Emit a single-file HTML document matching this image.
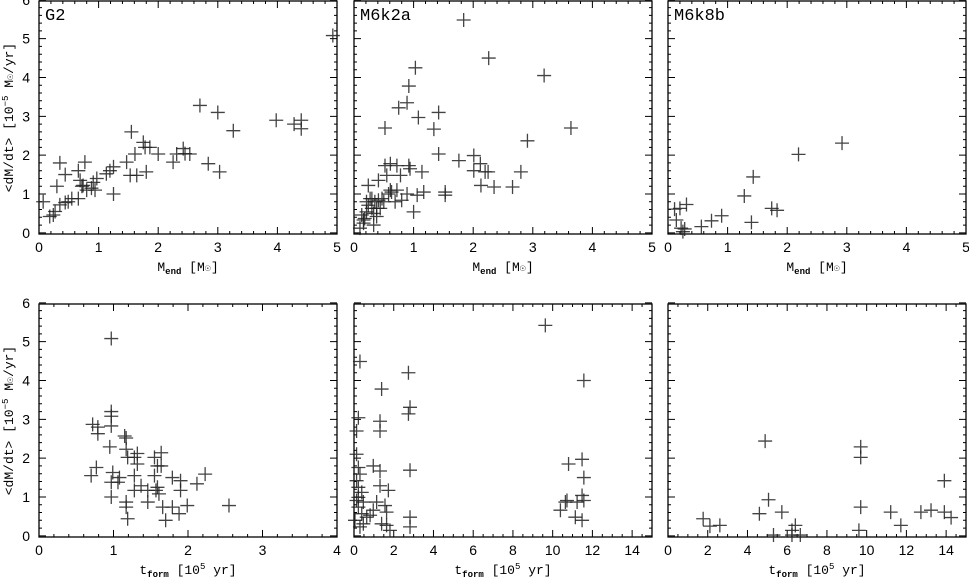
<!DOCTYPE html>
<html><head><meta charset="utf-8"><style>
body{margin:0;background:#fff}
svg{display:block;font-family:"Liberation Sans",sans-serif}
</style></head><body>
<svg id="chart" width="969" height="579" xmlns="http://www.w3.org/2000/svg"></svg>
<script>
// ---- data ----
const g2MendX=[0.07,0.24,0.18,0.27,0.3,0.35,0.44,0.35,0.44,0.49,0.55,0.66,0.66,0.69,0.72,0.77,0.74,0.8,0.88,0.94,0.91,0.97,1.13,1.19,1.25,1.25,1.47,1.55,1.61,1.53,1.64,1.8,1.75,1.78,1.86,2.0,2.25,2.31,2.42,2.45,2.53,2.7,2.84,3.0,3.03,3.26,3.98,4.28,4.4,4.4,4.93];
const g2MendY=[0.8,0.46,0.42,0.55,1.2,1.8,1.5,0.72,0.78,0.8,0.88,0.88,1.6,1.35,1.2,1.82,1.22,1.1,1.15,1.1,1.3,1.4,1.52,1.6,1.7,1.0,1.82,2.6,2.03,1.48,1.48,1.57,2.33,2.2,2.2,2.03,1.82,2.03,2.17,2.04,2.03,3.28,1.78,3.1,1.57,2.63,2.9,2.8,2.9,2.68,5.08];
const m2MendX=[0.1,0.16,0.18,0.21,0.24,0.27,0.3,0.33,0.38,0.35,0.41,0.47,0.44,0.24,0.41,0.55,0.52,0.61,0.72,0.92,0.78,0.63,0.72,0.8,0.89,1.0,1.06,1.17,1.14,0.94,0.52,0.75,0.89,0.92,1.03,1.08,1.34,1.42,1.42,1.53,1.53,1.76,1.84,2.01,2.01,2.12,2.2,2.25,2.13,2.35,2.26,2.66,2.8,2.91,3.19,3.64,0.16,0.3,0.5,0.58,0.69,0.21,0.13,0.33,0.38,0.61];
const m2MendY=[0.12,0.25,0.37,0.54,0.71,0.88,0.63,0.5,0.42,0.8,0.84,0.88,0.63,1.22,1.35,1.48,1.73,1.78,1.73,1.73,1.48,1.05,1.1,0.84,1.0,0.54,0.97,1.05,1.57,1.65,2.7,3.22,3.35,3.78,4.25,2.97,2.67,3.1,2.03,1.05,0.97,1.86,5.48,1.99,1.6,1.78,1.57,1.57,1.22,1.18,4.5,1.18,1.57,2.37,4.05,2.7,0.33,0.88,0.8,1.0,0.8,0.8,0.46,0.2,0.63,1.1];
const m8MendX=[0.11,0.2,0.31,0.14,0.22,0.28,0.56,0.73,0.9,1.28,1.43,1.4,1.74,1.83,2.19,2.92,0.25];
const m8MendY=[0.61,0.63,0.73,0.33,0.12,0.1,0.16,0.31,0.44,0.95,1.44,0.27,0.63,0.58,2.02,2.31,0.03];
const g2TX=[0.97,0.97,0.97,0.97,0.72,0.79,0.79,0.95,1.15,1.17,1.17,1.19,1.32,1.28,1.32,0.77,0.7,0.99,0.97,1.08,1.06,0.97,1.28,1.28,1.37,1.46,1.46,1.17,1.17,1.19,1.55,1.55,1.57,1.61,1.59,1.64,1.64,1.66,1.7,1.79,1.79,1.9,1.9,1.88,1.99,2.12,2.23,2.55,1.59];
const g2TY=[5.08,3.2,3.08,2.83,2.87,2.8,2.63,2.29,2.57,2.52,2.23,2.02,2.12,2.02,1.85,1.76,1.55,1.63,1.38,1.5,1.38,1.0,1.55,1.17,1.29,1.17,0.87,0.87,0.74,0.44,2.02,1.55,1.17,1.08,1.8,1.8,2.14,0.74,0.4,0.74,1.5,1.42,1.17,0.57,0.78,1.34,1.59,0.78,1.25];
const m2TX=[0.3,0.22,0.13,0.97,1.31,1.31,1.73,1.39,1.31,1.31,2.74,2.82,2.74,2.82,2.82,2.82,9.63,11.57,11.48,10.8,11.57,11.48,11.57,10.64,10.72,10.39,11.23,11.14,11.48,0.13,0.22,0.3,0.13,0.39,0.22,0.47,0.22,0.39,0.64,0.81,0.47,0.13,1.14,1.56,1.64,1.39,1.64,1.81,0.97,0.22,0.05,0.3];
const m2TY=[4.49,3.04,2.7,1.8,1.67,1.29,1.17,3.78,2.95,2.7,4.2,3.31,3.14,1.69,0.48,0.23,5.42,4.0,1.97,1.85,1.5,1.04,0.91,0.87,0.91,0.66,0.87,0.48,0.4,2.1,1.76,1.59,1.42,1.12,0.99,0.87,0.74,0.57,0.48,0.53,0.31,0.91,0.87,0.78,0.61,0.31,0.27,0.14,0.66,1.25,0.4,0.23];
const m8TX=[1.77,2.11,2.61,4.89,5.06,4.6,5.73,5.31,6.24,6.41,6.24,6.66,9.7,9.7,9.7,9.61,11.21,11.72,12.73,13.24,13.91,13.91,14.25];
const m8TY=[0.44,0.25,0.27,2.44,0.93,0.57,0.61,0.02,0.14,0.27,0.02,0.02,2.29,2.02,0.74,0.14,0.61,0.27,0.61,0.66,1.42,0.61,0.47];
const yTicks=[0,1,2,3,4,5,6];
const mTicks=[0,1,2,3,4,5];
const t4Ticks=[0,1,2,3,4];
const t15Ticks=[0,2,4,6,8,10,12,14];
// ---- layout ----
const NS="http://www.w3.org/2000/svg";
const svg=document.getElementById('chart');
function mk(tag,attrs,parent){const e=document.createElementNS(NS,tag);for(const k in attrs)e.setAttribute(k,attrs[k]);(parent||svg).appendChild(e);return e;}
const panels=[
 {name:'g2-mend',x0:39,top:1,xmax:5,xs:g2MendX,ys:g2MendY,ticks:mTicks,minor:0.2,label:'G2',ylab:true,xt:'mend'},
 {name:'m6k2a-mend',x0:354,top:1,xmax:5,xs:m2MendX,ys:m2MendY,ticks:mTicks,minor:0.2,label:'M6k2a',ylab:false,xt:'mend'},
 {name:'m6k8b-mend',x0:668,top:1,xmax:5,xs:m8MendX,ys:m8MendY,ticks:mTicks,minor:0.2,label:'M6k8b',ylab:false,xt:'mend'},
 {name:'g2-tform',x0:39,top:304,xmax:4,xs:g2TX,ys:g2TY,ticks:t4Ticks,minor:0.2,label:'',ylab:true,xt:'tform'},
 {name:'m6k2a-tform',x0:354,top:304,xmax:15,xs:m2TX,ys:m2TY,ticks:t15Ticks,minor:0.5,label:'',ylab:false,xt:'tform'},
 {name:'m6k8b-tform',x0:668,top:304,xmax:15,xs:m8TX,ys:m8TY,ticks:t15Ticks,minor:0.5,label:'',ylab:false,xt:'tform'}
];
const W=298,H=233,YMIN=-0.03,YMAX=5.97;
panels.forEach(p=>{
 const g=mk('g',{});
 
 
 const xs=v=>p.x0+v/p.xmax*W;
 const ys=v=>p.top+H-(v-YMIN)/(YMAX-YMIN)*H;
 const bottom=p.top+H;
 // minor ticks
 let d='';
 for(let v=0;v<=p.xmax+1e-9;v+=p.minor){const x=xs(v);d+=`M${x} ${bottom}v-3M${x} ${p.top}v3`;}
 for(let v=0;v<=6+1e-9;v+=0.2){const y=ys(v);d+=`M${p.x0} ${y}h3M${p.x0+W} ${y}h-3`;}
 p.ticks.forEach(v=>{const x=xs(v);d+=`M${x} ${bottom}v-7M${x} ${p.top}v7`;});
 yTicks.forEach(v=>{const y=ys(v);d+=`M${p.x0} ${y}h7M${p.x0+W} ${y}h-7`;});
 const t=mk('path',{d:d,stroke:'#000','stroke-width':1,fill:'none'},g);
 
 
 const fr=mk('rect',{x:p.x0,y:p.top,width:W,height:H,fill:'none',stroke:'#000','stroke-width':1.3},g);
 
 
 p.ticks.forEach(v=>{const tx=mk('text',{x:xs(v),y:bottom+18,'font-size':14,'text-anchor':'middle'},g);tx.textContent=v;
  
  });
 if(p.ylab){yTicks.forEach(v=>{const tx=mk('text',{x:p.x0-9,y:ys(v)+5,'font-size':14,'text-anchor':'end'},g);tx.textContent=v;
  
  });
  const yt=mk('text',{transform:`translate(13,${p.top+H/2}) rotate(-90)`,'font-size':13,'text-anchor':'middle','font-family':'Liberation Mono, monospace'},g);
  yt.innerHTML='&lt;dM/dt&gt; [10<tspan dy="-5" font-size="9">−5</tspan><tspan dy="5"> M</tspan><tspan font-size="10">☉</tspan>/yr]';
  
  }
 if(p.label){const lb=mk('text',{x:p.x0+6,y:p.top+19,'font-size':17,'font-family':'Liberation Mono, monospace'},g);lb.textContent=p.label;
  
  }
 const xt=mk('text',{x:p.x0+W/2,y:bottom+37,'font-size':13,'text-anchor':'middle','font-family':'Liberation Mono, monospace'},g);
 if(p.xt==='mend')xt.innerHTML='M<tspan dy="3" font-size="9" font-weight="bold">end</tspan><tspan dy="-3"> [M</tspan><tspan font-size="10">☉</tspan>]';
 else xt.innerHTML='t<tspan dy="3" font-size="9" font-weight="bold">form</tspan><tspan dy="-3"> [10</tspan><tspan dy="-5" font-size="9">5</tspan><tspan dy="5"> yr]</tspan>';
 
 
 p.xs.forEach((xv,i)=>{const x=xs(xv),y=ys(p.ys[i]);
  const c=mk('path',{d:`M${x-7} ${y}h14M${x} ${y-7}v14`,stroke:'#222','stroke-width':1.3,'stroke-opacity':0.85},g);
  
  });
});
</script>
</body></html>
